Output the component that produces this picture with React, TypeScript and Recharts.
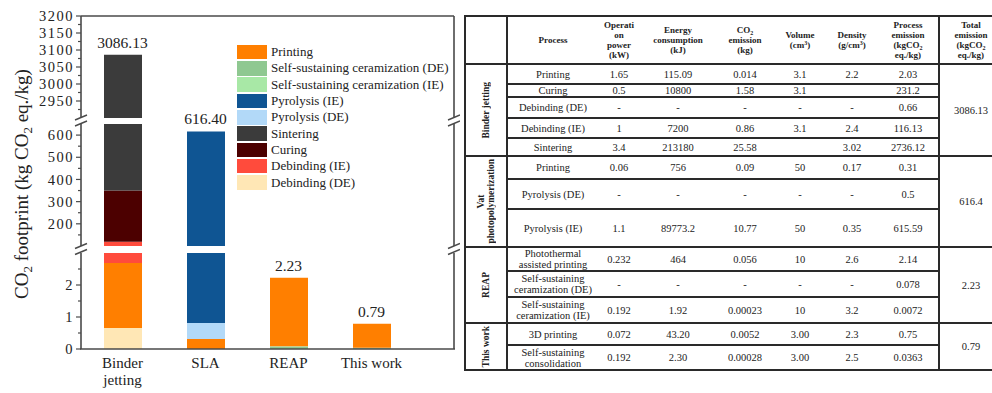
import React from "react";
import { Bar, ComposedChart, LabelList, Line, XAxis, YAxis } from "recharts";

// ---------------------------------------------------------------------------
// Data (kg CO2 eq./kg)
// ---------------------------------------------------------------------------

const categories = ["Binder\njetting", "SLA", "REAP", "This work"];

const debindingDE = [0.66, 0, 0, 0];
const sscDE = [0, 0, 0.078, 0.0363];
const sscIE = [0, 0, 0.0072, 0];
const printing = [2.03, 0.31, 2.14, 0.75];
const pyrolysisDE = [0, 0.5, 0, 0];
const pyrolysisIE = [0, 615.59, 0, 0];
const debindingIE = [116.13, 0, 0, 0];
const curing = [231.2, 0, 0, 0];
const sintering = [2736.12, 0, 0, 0];
const totals = [3086.13, 616.4, 2.23, 0.79];

// axis ticks for the three pieces of the broken axis
const topMajors = [2950, 3000, 3050, 3100, 3150, 3200];
const topMinors = [2925, 2975, 3025, 3075, 3125, 3175];
const midMajors = [200, 300, 400, 500, 600];
const midMinors = [150, 250, 350, 450, 550];
const lowMajors = [0, 1, 2];
const lowMinors = [0.5, 1.5, 2.5];

// table
const tableGroups = ["Binder jetting", "Vat\nphotopolymerization", "REAP", "This work"];
const groupSizes = [5, 3, 3, 2];
const groupTotals = ["3086.13", "616.4", "2.23", "0.79"];
const processNames = [
  "Printing", "Curing", "Debinding (DE)", "Debinding (IE)", "Sintering",
  "Printing", "Pyrolysis (DE)", "Pyrolysis (IE)",
  "Photothermal\nassisted printing", "Self-sustaining\nceramization (DE)", "Self-sustaining\nceramization (IE)",
  "3D printing", "Self-sustaining\nconsolidation",
];
const operationPower = ["1.65", "0.5", "-", "1", "3.4", "0.06", "-", "1.1", "0.232", "-", "0.192", "0.072", "0.192"];
const energyKJ = ["115.09", "10800", "-", "7200", "213180", "756", "-", "89773.2", "464", "-", "1.92", "43.20", "2.30"];
const co2Kg = ["0.014", "1.58", "-", "0.86", "25.58", "0.09", "-", "10.77", "0.056", "-", "0.00023", "0.0052", "0.00028"];
const volumeCm3 = ["3.1", "3.1", "-", "3.1", "", "50", "-", "50", "10", "-", "10", "3.00", "3.00"];
const densityGcm3 = ["2.2", "", "-", "2.4", "3.02", "0.17", "-", "0.35", "2.6", "-", "3.2", "2.3", "2.5"];
const processEmission = ["2.03", "231.2", "0.66", "116.13", "2736.12", "0.31", "0.5", "615.59", "2.14", "0.078", "0.0072", "0.75", "0.0363"];

// ---------------------------------------------------------------------------
// Series / styling
// ---------------------------------------------------------------------------

const FONT = '"Liberation Serif", "Times New Roman", serif';
const AXIS = "#4a4a4a";
const INK = "#222";

// stacking order, bottom to top
const series = [
  { key: "debindingDE", label: "Debinding (DE)", color: "#FFE7B5", values: debindingDE },
  { key: "sscDE", label: "Self-sustaining ceramization (DE)", color: "#8FC891", values: sscDE },
  { key: "sscIE", label: "Self-sustaining ceramization (IE)", color: "#A8E8A6", values: sscIE },
  { key: "printing", label: "Printing", color: "#FF7F00", values: printing },
  { key: "pyrolysisDE", label: "Pyrolysis (DE)", color: "#B2D9F8", values: pyrolysisDE },
  { key: "pyrolysisIE", label: "Pyrolysis (IE)", color: "#0F5593", values: pyrolysisIE },
  { key: "debindingIE", label: "Debinding (IE)", color: "#FF4B3C", values: debindingIE },
  { key: "curing", label: "Curing", color: "#4C0000", values: curing },
  { key: "sintering", label: "Sintering", color: "#3B3B3B", values: sintering },
];

const legendOrder = ["printing", "sscDE", "sscIE", "pyrolysisIE", "pyrolysisDE", "sintering", "curing", "debindingIE", "debindingDE"];

const chartData = categories.map((name, i) => {
  const row: Record<string, string | number> = { name, total: totals[i] };
  series.forEach((s) => (row[s.key] = s.values[i]));
  return row;
});

// layout of the three pieces
const PANEL_W = 460;
const PLOT_LEFT = 81;
const RIGHT_MARGIN = 6;
const X_AXIS_H = 44;
const segments = [
  { domain: [2900, 3200], majors: topMajors, minors: topMinors, top: 0, height: 118, marginTop: 16, frame: "top" },
  { domain: [100, 650], majors: midMajors, minors: midMinors, top: 100, height: 146, marginTop: 24, frame: "none" },
  { domain: [0, 3], majors: lowMajors, minors: lowMinors, top: 232, height: 161, marginTop: 21, frame: "bottom" },
];
const plotSpans = segments.map((s) => [
  s.top + s.marginTop,
  s.top + s.height - (s.frame === "bottom" ? X_AXIS_H : 0),
]);
const PLOT_RIGHT = PANEL_W - RIGHT_MARGIN;

// ---------------------------------------------------------------------------
// Ticks & labels
// ---------------------------------------------------------------------------

function ValueTick(props: any) {
  const { x, y, payload, majors } = props;
  const major = majors.includes(payload.value);
  return (
    <g>
      <line x1={x - (major ? 5 : 3)} x2={x} y1={y} y2={y} stroke={AXIS} strokeWidth={1.2} />
      {major && (
        <text x={x - 7} y={y} dy="0.35em" textAnchor="end" fontSize={14.5} letterSpacing={1.5} fill={INK}>
          {payload.value}
        </text>
      )}
    </g>
  );
}

function CategoryTick(props: any) {
  const { x, y, payload } = props;
  const lines = String(payload.value).split("\n");
  return (
    <text x={x} y={y} textAnchor="middle" fontSize={15} fill={INK}>
      {lines.map((l, i) => (
        <tspan key={i} x={x} dy={i === 0 ? 19 : 17}>
          {l}
        </tspan>
      ))}
    </text>
  );
}

function totalLabel(domain: number[]) {
  return (props: any) => {
    const { x, y, value } = props;
    if (value < domain[0] || value > domain[1]) return null;
    return (
      <text x={x} y={y - 7} textAnchor="middle" fontSize={15.5} fill={INK}>
        {Number(value).toFixed(2)}
      </text>
    );
  };
}

// ---------------------------------------------------------------------------
// One piece of the broken axis chart
// ---------------------------------------------------------------------------

function Segment({ seg }: { seg: (typeof segments)[number] }) {
  const xPadding = { left: 0, right: 41 };
  return (
    <div style={{ position: "absolute", left: 0, top: seg.top }}>
      <ComposedChart
        width={PANEL_W}
        height={seg.height}
        data={chartData}
        barSize={38}
        margin={{ top: seg.marginTop, right: RIGHT_MARGIN, bottom: 0, left: 0 }}
      >
        {seg.frame === "bottom" ? (
          <XAxis
            dataKey="name"
            interval={0}
            height={X_AXIS_H}
            padding={xPadding}
            tickLine={false}
            tickSize={0}
            tickMargin={0}
            axisLine={false}
            tick={<CategoryTick />}
          />
        ) : (
          <XAxis dataKey="name" hide padding={xPadding} />
        )}
        <YAxis
          type="number"
          domain={seg.domain}
          allowDataOverflow
          ticks={[...seg.majors, ...seg.minors].sort((a, b) => a - b)}
          interval={0}
          width={PLOT_LEFT}
          tickSize={0}
          tickMargin={0}
          tickLine={false}
          axisLine={false}
          tick={<ValueTick majors={seg.majors} />}
        />
        {series.map((s) => (
          <Bar key={s.key} dataKey={s.key} stackId="a" fill={s.color} isAnimationActive={false} />
        ))}
        <Line
          dataKey="total"
          stroke="none"
          dot={false}
          activeDot={false}
          legendType="none"
          isAnimationActive={false}
        >
          <LabelList dataKey="total" content={totalLabel(seg.domain)} />
        </Line>
      </ComposedChart>
    </div>
  );
}

function BreakMark({ cx, cy }: { cx: number; cy: number }) {
  return (
    <g stroke={AXIS} strokeWidth={1.4}>
      <line x1={cx - 6} y1={cy - 1} x2={cx + 6} y2={cy - 6} />
      <line x1={cx - 6} y1={cy + 5} x2={cx + 6} y2={cy} />
    </g>
  );
}

function ChartLegend() {
  return (
    <div style={{ position: "absolute", left: 237, top: 44, fontSize: 13, color: INK }}>
      {legendOrder.map((k) => {
        const s = series.find((x) => x.key === k)!;
        return (
          <div key={k} style={{ display: "flex", alignItems: "center", height: 16.3 }}>
            <div style={{ width: 30, height: 14.5, background: s.color, marginRight: 4 }} />
            <span style={{ whiteSpace: "nowrap" }}>{s.label}</span>
          </div>
        );
      })}
    </div>
  );
}

function ChartPanel() {
  const gaps = plotSpans.slice(1).map((s, i) => (plotSpans[i][1] + s[0]) / 2);
  const last = plotSpans[plotSpans.length - 1];
  return (
    <div style={{ position: "absolute", left: 0, top: 0, width: PANEL_W, height: 393 }}>
      {segments.map((seg, i) => (
        <Segment key={i} seg={seg} />
      ))}
      <ChartLegend />
      <svg width={PANEL_W} height={393} style={{ position: "absolute", left: 0, top: 0, pointerEvents: "none" }}>
        {/* frame: left and right edges of each piece, top and bottom edges */}
        <g stroke={AXIS} strokeWidth={1.6}>
          {plotSpans.map(([a, b], i) => (
            <g key={i}>
              <line x1={PLOT_LEFT} x2={PLOT_LEFT} y1={a} y2={b} />
              <line x1={PLOT_RIGHT} x2={PLOT_RIGHT} y1={a} y2={b} />
            </g>
          ))}
          <line x1={PLOT_LEFT} x2={PLOT_RIGHT} y1={plotSpans[0][0]} y2={plotSpans[0][0]} />
          <line x1={PLOT_LEFT - 1} x2={PLOT_RIGHT + 1} y1={last[1]} y2={last[1]} />
        </g>
        {gaps.map((g, i) => (
          <g key={i}>
            <BreakMark cx={PLOT_LEFT} cy={g} />
            <BreakMark cx={PLOT_RIGHT} cy={g} />
          </g>
        ))}
        <text transform="rotate(-90, 28, 184)" x={28} y={184} textAnchor="middle" fontSize={19} fill={INK}>
          CO<tspan dy={4} fontSize={13}>2</tspan>
          <tspan dy={-4}> footprint (kg CO</tspan>
          <tspan dy={4} fontSize={13}>2</tspan>
          <tspan dy={-4}> eq./kg)</tspan>
        </text>
      </svg>
    </div>
  );
}

// ---------------------------------------------------------------------------
// Table
// ---------------------------------------------------------------------------

const colWidths = [42, 90, 42, 76, 58, 52, 52, 60, 64];
const rowHeights = [20, 13, 21, 20, 18, 23, 30, 38, 24, 26, 26, 22, 25];
const sub = (t: string) => <sub style={{ fontSize: 6, lineHeight: 0, verticalAlign: "-2px" }}>{t}</sub>;
const sup = (t: string) => <sup style={{ fontSize: 6, lineHeight: 0, verticalAlign: "3px" }}>{t}</sup>;

const headers: React.ReactNode[] = [
  "",
  "Process",
  <>Operati<br />on<br />power<br />(kW)</>,
  <>Energy<br />consumption<br />(kJ)</>,
  <>CO{sub("2")}<br />emission<br />(kg)</>,
  <>Volume<br />(cm{sup("3")})</>,
  <>Density<br />(g/cm{sup("3")})</>,
  <>Process<br />emission<br />(kgCO{sub("2")}<br />eq./kg)</>,
  <>Total<br />emission<br />(kgCO{sub("2")}<br />eq./kg)</>,
];

const valueColumns = [processNames, operationPower, energyKJ, co2Kg, volumeCm3, densityGcm3, processEmission];

function EmissionTable() {
  const border = "2px solid #2a2a2a";
  const centred: React.CSSProperties = {
    display: "flex",
    alignItems: "center",
    justifyContent: "center",
    textAlign: "center",
    boxSizing: "border-box",
    overflow: "hidden",
  };
  const cells: React.ReactNode[] = [];

  headers.forEach((h, c) => {
    cells.push(
      <div
        key={`h${c}`}
        style={{
          ...centred,
          gridRow: 1,
          gridColumn: c + 1,
          borderBottom: border,
          borderRight: c === 0 ? border : undefined,
          borderLeft: c === 8 ? border : undefined,
          fontWeight: "bold",
          fontSize: 9,
          lineHeight: "10px",
        }}
      >
        <div>{h}</div>
      </div>
    );
  });

  let row = 2;
  let idx = 0;
  tableGroups.forEach((g, gi) => {
    const n = groupSizes[gi];
    cells.push(
      <div key={`g${gi}`} style={{ ...centred, gridRow: `${row} / span ${n}`, gridColumn: 1, borderBottom: border, borderRight: border }}>
        <span
          style={{
            writingMode: "vertical-rl",
            transform: "rotate(180deg)",
            whiteSpace: "pre",
            fontWeight: "bold",
            fontSize: 9.5,
            lineHeight: "10px",
            textAlign: "center",
          }}
        >
          {g}
        </span>
      </div>
    );
    cells.push(
      <div key={`t${gi}`} style={{ ...centred, gridRow: `${row} / span ${n}`, gridColumn: 9, borderBottom: border, borderLeft: border }}>
        {groupTotals[gi]}
      </div>
    );
    for (let r = 0; r < n; r++) {
      valueColumns.forEach((col, c) => {
        cells.push(
          <div
            key={`c${idx + r}-${c}`}
            style={{ ...centred, gridRow: row + r, gridColumn: c + 2, borderBottom: border, whiteSpace: "pre-line" }}
          >
            {col[idx + r]}
          </div>
        );
      });
    }
    row += n;
    idx += n;
  });

  return (
    <div
      style={{
        position: "absolute",
        left: 464,
        top: 15,
        borderTop: border,
        borderLeft: border,
        display: "grid",
        gridTemplateColumns: colWidths.map((w) => `${w}px`).join(" "),
        gridTemplateRows: ["48px", ...rowHeights.map((h) => `${h}px`)].join(" "),
        fontSize: 10.5,
        lineHeight: "11px",
        color: INK,
      }}
    >
      {cells}
    </div>
  );
}

// ---------------------------------------------------------------------------
// App
// ---------------------------------------------------------------------------

export default function App() {
  return (
    <div
      style={{
        position: "absolute",
        left: 0,
        top: 0,
        width: 992,
        height: 393,
        overflow: "hidden",
        background: "#fff",
        fontFamily: FONT,
        color: INK,
      }}
    >
      <ChartPanel />
      <EmissionTable />
    </div>
  );
}
